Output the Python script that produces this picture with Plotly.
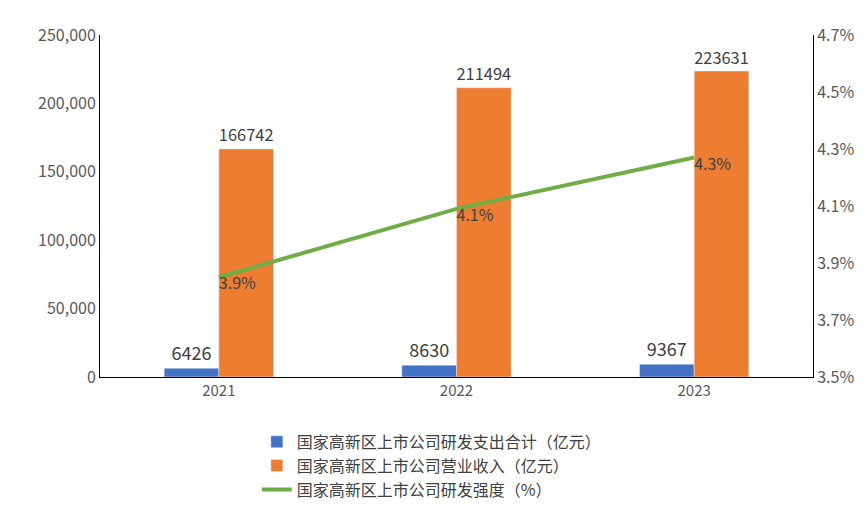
import plotly.graph_objects as go

years = ["2021", "2022", "2023"]
rd = [6426, 8630, 9367]
rev = [166742, 211494, 223631]
intensity = [3.85, 4.09, 4.27]
intensity_labels = ["3.9%", "4.1%", "4.3%"]
right_ticks = [3.5, 3.7, 3.9, 4.1, 4.3, 4.5, 4.7]

font = "Noto Sans CJK SC"
fig = go.Figure()
fig.add_bar(x=years, y=rd, name="国家高新区上市公司研发支出合计（亿元）", marker_color="#4472C4",
            text=[str(v) for v in rd], textposition="outside", textfont=dict(size=18, color="#404040"), cliponaxis=False)
fig.add_bar(x=years, y=rev, name="国家高新区上市公司营业收入（亿元）", marker_color="#ED7D31",
            text=[str(v) for v in rev], textposition="outside", textfont=dict(size=18, color="#404040"), cliponaxis=False)
fig.add_scatter(x=years, y=intensity, yaxis="y2", mode="lines+text", name="国家高新区上市公司研发强度（%）",
                line=dict(color="#70AD47", width=4), text=intensity_labels,
                textposition="bottom right", textfont=dict(size=16, color="#404040"))
fig.update_layout(
    width=865, height=511, margin=dict(l=92, r=60, t=27, b=128),
    plot_bgcolor="white", paper_bgcolor="white",
    font=dict(family=font, color="#595959", size=15),
    barmode="group", bargap=0.54, bargroupgap=0,
    xaxis=dict(showline=True, linecolor="#000000", linewidth=1, tickfont=dict(size=15)),
    yaxis=dict(range=[0, 250000], dtick=50000, tickformat=",", showgrid=False, showline=True,
               linecolor="#000000", ticks="", tickfont=dict(size=16)),
    yaxis2=dict(range=[3.5, 4.7], tickvals=right_ticks, ticktext=[f"{v:.1f}%" for v in right_ticks],
                overlaying="y", side="right", showgrid=False,
                showline=True, linecolor="#000000", tickfont=dict(size=16)),
    legend=dict(orientation="v", x=0.22, y=-0.14, xanchor="left", yanchor="top",
                font=dict(size=16, color="#404040"), tracegroupgap=0),
    showlegend=True,
)
fig.write_html("out.html")
